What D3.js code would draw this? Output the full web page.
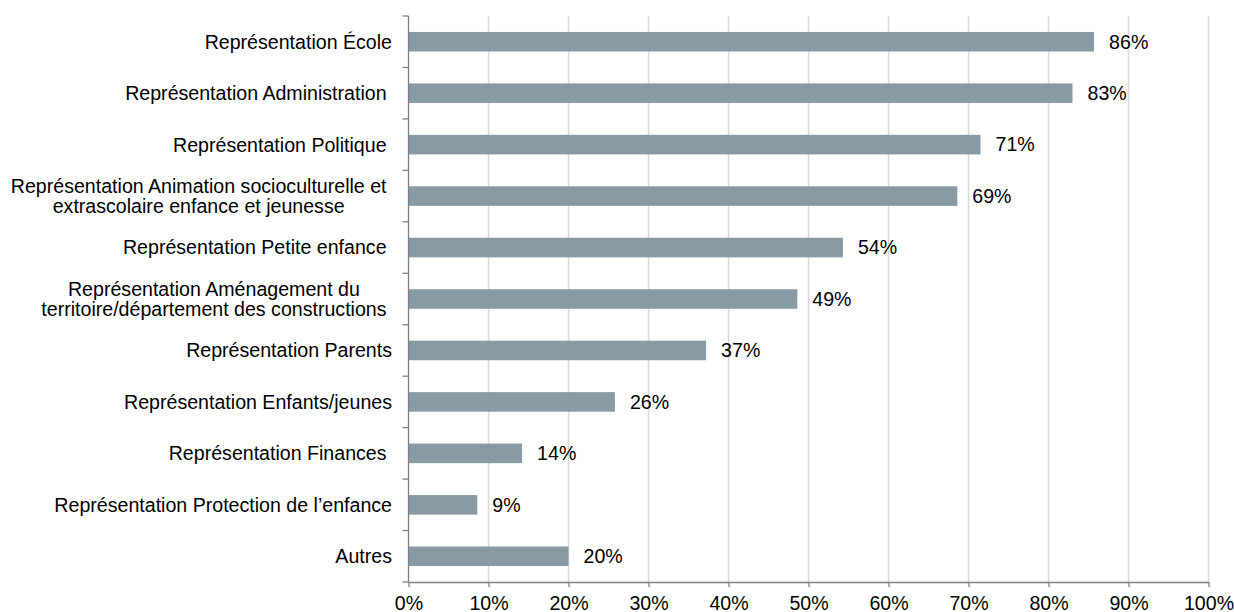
<!DOCTYPE html>
<html><head><meta charset="utf-8">
<script src="https://cdn.jsdelivr.net/npm/d3@7"></script>
<style>body{margin:0;background:#fff}svg text{font-family:"Liberation Sans",Arial,sans-serif;white-space:pre}</style>
</head><body><svg id="c" width="1234" height="612"></svg>
<script>
const categories = [
  ["Représentation École"],
  ["Représentation Administration\u00a0"],
  ["Représentation Politique\u00a0"],
  ["Représentation Animation socioculturelle et\u00a0", "extrascolaire enfance et jeunesse\u00a0"],
  ["Représentation Petite enfance\u00a0"],
  ["Représentation Aménagement du\u00a0", "territoire/département des constructions\u00a0"],
  ["Représentation Parents"],
  ["Représentation Enfants/jeunes"],
  ["Représentation Finances\u00a0"],
  ["Représentation Protection de l’enfance"],
  ["Autres"]
];
const values = [85.7, 83, 71.5, 68.6, 54.3, 48.6, 37.2, 25.8, 14.2, 8.6, 20];
const valueLabels = ["86%", "83%", "71%", "69%", "54%", "49%", "37%", "26%", "14%", "9%", "20%"];
const xTicks = [0, 10, 20, 30, 40, 50, 60, 70, 80, 90, 100];

(function() {
const svg = d3.select("#c");
const fs = 19.6;
const mLeft = 408.5, mRight = 1208.5, mTop = 16, mBottom = 582;
const x = d3.scaleLinear().domain([0, 100]).range([mLeft, mRight]);
const y = d3.scaleBand().domain(d3.range(categories.length)).range([mTop, mBottom]).padding(0);
const barH = y.bandwidth() * 0.38;

svg.append("g").selectAll("line").data(xTicks.slice(1)).join("line")
  .attr("x1", d => x(d)).attr("x2", d => x(d))
  .attr("y1", mTop).attr("y2", mBottom)
  .attr("stroke", "#d9d9d9").attr("stroke-width", 1.5);

svg.append("g").selectAll("rect").data(values).join("rect")
  .attr("x", x(0)).attr("y", (d, i) => y(i) + y.bandwidth() / 2 - barH / 2)
  .attr("width", d => x(d) - x(0)).attr("height", barH)
  .attr("fill", "#889aa4");

svg.append("g").selectAll("text").data(values).join("text")
  .attr("x", d => x(d) + 15).attr("y", (d, i) => y(i) + y.bandwidth() / 2)
  .attr("dy", "0.35em").attr("font-size", fs).attr("fill", "#000")
  .text((d, i) => valueLabels[i]);

const yg = svg.append("g");
yg.append("line").attr("x1", mLeft).attr("x2", mLeft).attr("y1", mTop).attr("y2", mBottom).attr("stroke", "#7f7f7f").attr("stroke-width", 1.3);
yg.selectAll("line.t").data(d3.range(categories.length + 1)).join("line").attr("class", "t")
  .attr("x1", mLeft - 6).attr("x2", mLeft)
  .attr("y1", i => mTop + i * y.step()).attr("y2", i => mTop + i * y.step())
  .attr("stroke", "#7f7f7f").attr("stroke-width", 1.3);

const labelRight = 392;
const lab = svg.append("g").selectAll("text").data(categories).join("text")
  .attr("font-size", fs).attr("fill", "#000")
  .attr("transform", (d, i) => `translate(0,${y(i) + y.bandwidth() / 2})`);
lab.each(function(lines) {
  const t = d3.select(this);
  const lh = 20.5;
  const spans = lines.map((s, k) => t.append("tspan")
      .attr("y", (k - (lines.length - 1) / 2) * lh)
      .attr("dy", "0.35em").text(s));
  if (lines.length === 1) {
    spans[0].attr("x", labelRight).attr("text-anchor", "end");
  } else {
    t.attr("text-anchor", "middle");
    const w = d3.max(spans, s => s.node().getComputedTextLength());
    spans.forEach(s => s.attr("x", labelRight - w / 2));
  }
});

const xAxis = d3.axisBottom(x).tickValues(xTicks).tickFormat(d => d + "%").tickSize(5).tickSizeOuter(0);
const xg = svg.append("g").attr("transform", `translate(0,${mBottom})`).call(xAxis);
xg.select(".domain").attr("stroke", "#7f7f7f").attr("stroke-width", 1.3);
xg.selectAll(".tick line").attr("stroke", "#7f7f7f").attr("stroke-width", 1.3);
xg.selectAll(".tick text").attr("font-size", fs).attr("fill", "#000").attr("y", 14)
  .attr("font-family", "Liberation Sans, Arial, sans-serif");
})();
</script></body></html>
